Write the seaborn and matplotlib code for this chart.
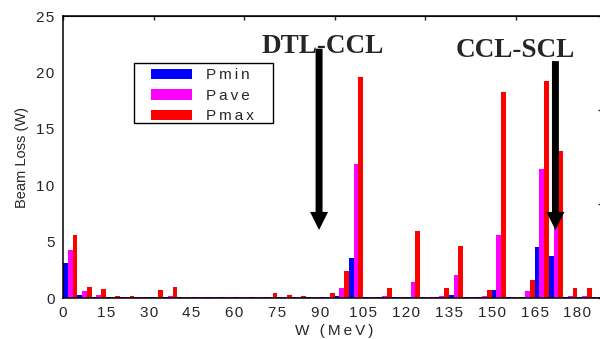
import pandas as pd
import seaborn as sns
import matplotlib.pyplot as plt
from matplotlib.patches import Rectangle
from matplotlib.ticker import MultipleLocator

# bin centres of the 5 MeV energy bins (MeV)
energy = [2.5, 7.5, 12.5, 17.5, 22.5, 27.5, 32.5, 37.5, 42.5, 47.5,
          52.5, 57.5, 62.5, 67.5, 72.5, 77.5, 82.5, 87.5, 92.5, 97.5,
          102.5, 107.5, 112.5, 117.5, 122.5, 127.5, 132.5, 137.5, 142.5, 147.5,
          152.5, 157.5, 162.5, 167.5, 172.5, 177.5, 182.5, 187.5]

# beam loss per bin (W)
p_min = [3.1, 0.27, 0.08, 0.08, 0.08, 0.08, 0.08, 0.08, 0.08, 0.08,
         0.08, 0.08, 0.08, 0.08, 0.08, 0.08, 0.08, 0.08, 0.08, 0.18,
         3.55, 0.08, 0.08, 0.08, 0.08, 0.08, 0.08, 0.27, 0.08, 0.08,
         0.7, 0.08, 0.08, 4.52, 3.72, 0.08, 0.08, 0.08]
p_ave = [4.25, 0.62, 0.27, 0.12, 0.12, 0.1, 0.12, 0.18, 0.1, 0.1,
         0.1, 0.1, 0.1, 0.1, 0.12, 0.1, 0.1, 0.1, 0.1, 0.89,
         11.88, 0.1, 0.18, 0.1, 1.42, 0.1, 0.18, 2.04, 0.1, 0.18,
         5.59, 0.1, 0.62, 11.44, 7.9, 0.18, 0.18, 0.1]
p_max = [5.6, 0.97, 0.8, 0.18, 0.2, 0.1, 0.7, 0.97, 0.1, 0.1,
         0.1, 0.1, 0.1, 0.1, 0.44, 0.27, 0.18, 0.1, 0.44, 2.39,
         19.6, 0.1, 0.89, 0.1, 5.94, 0.1, 0.89, 4.6, 0.1, 0.7,
         18.26, 0.1, 1.6, 19.24, 13.03, 0.89, 0.89, 0.1]

series = ["Pmin", "Pave", "Pmax"]
colors = ["#0000ff", "#ff00ff", "#ff0000"]
xticks = [0, 15, 30, 45, 60, 75, 90, 105, 120, 135, 150, 165, 180]
yticks = [0, 5, 10, 15, 20, 25]


def spaced(s, sep="\u200a"):
    # mimic the letter spacing of the original labels
    return sep.join(s)


df = pd.DataFrame({
    "W": energy * 3,
    "loss": p_min + p_ave + p_max,
    "series": [series[0]] * len(energy) + [series[1]] * len(energy) + [series[2]] * len(energy),
})

sns.set_style("white")
plt.rcParams["font.family"] = ["Liberation Sans", "DejaVu Sans"]

fig = plt.figure(figsize=(6, 3.39), dpi=100)
ax = fig.add_axes([63 / 600, 41 / 339, 543 / 600, 282 / 339])

sns.barplot(data=df, x="W", y="loss", hue="series", hue_order=series,
            palette=colors, native_scale=True, dodge=True, width=1.0, gap=0,
            saturation=1, errorbar=None, linewidth=0, ax=ax)

ax.set_xlim(0, 190)
ax.set_ylim(0, 25)
ax.set_xticks(xticks)
ax.set_xticklabels([spaced(str(t)) for t in xticks])
ax.set_yticks(yticks)
ax.set_yticklabels([spaced(str(t)) for t in yticks])
ax.xaxis.set_minor_locator(MultipleLocator(5))
ax.yaxis.set_minor_locator(MultipleLocator(2.5))
ax.tick_params(axis="x", which="both", direction="in", length=3.3, width=1,
               labelsize=11, pad=6, color="black")
ax.tick_params(axis="y", which="major", direction="in", length=4.3, width=1,
               labelsize=11, pad=6, color="black")
ax.tick_params(axis="y", which="minor", direction="in", length=2, width=1, color="black")
for side in ["left", "bottom", "top", "right"]:
    ax.spines[side].set_color("black")
    ax.spines[side].set_linewidth(1.1)

# top and right axes carry their own ticks in the original
top = ax.secondary_xaxis("top", functions=(lambda x: x * 6 / 190, lambda x: x * 190 / 6))
top.set_xticks([0, 1, 2, 3, 4, 5, 6])
top.tick_params(direction="in", length=3, width=1, labeltop=False)
right = ax.secondary_yaxis("right", functions=(lambda y: y * 3 / 25, lambda y: y * 25 / 3))
right.set_yticks([0, 1, 2, 3])
right.tick_params(direction="in", length=6, width=1, labelright=False)

ax.set_xlabel(spaced("W (MeV)", "\u2009"), fontsize=11, labelpad=3)
ax.set_ylabel("Beam Loss (W)", fontsize=10.5, labelpad=5)

# legend without its own frame; the box is drawn separately (wider side padding)
handles, _ = ax.get_legend_handles_labels()
ax.legend(handles, [spaced(s, "\u2009") for s in series], loc="upper left",
          bbox_to_anchor=(0.162, 0.814), borderaxespad=0, fontsize=11,
          frameon=False, handlelength=2.7, handleheight=0.65, handletextpad=0.9,
          labelspacing=0.42, borderpad=0)
ax.add_patch(Rectangle((0.1308, 0.6206), 0.2559, 0.2127, transform=ax.transAxes,
                       facecolor="none", edgecolor="black", linewidth=1, zorder=4))

# section boundaries
ax.text(90.9, 21.72, "DTL-CCL", family="Liberation Serif", weight="bold",
        fontsize=19.5, ha="center", va="baseline")
ax.text(158.3, 21.37, "CCL-SCL", family="Liberation Serif", weight="bold",
        fontsize=19.5, ha="center", va="baseline")
arrow = dict(facecolor="black", edgecolor="black", linewidth=0, width=5,
             headwidth=13, headlength=13, shrink=0)
ax.annotate("", xy=(89.6, 6.03), xytext=(89.6, 22.1), arrowprops=arrow, zorder=5)
ax.annotate("", xy=(172.3, 6.03), xytext=(172.3, 21.0), arrowprops=arrow, zorder=5)

fig.savefig("out.png", dpi=100)
